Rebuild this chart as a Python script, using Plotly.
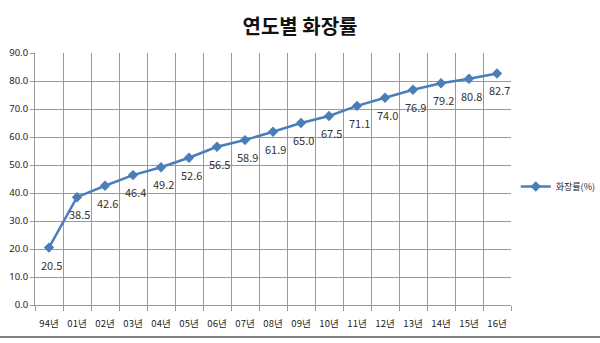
import plotly.graph_objects as go

years = ["94년", "01년", "02년", "03년", "04년", "05년", "06년", "07년", "08년",
         "09년", "10년", "11년", "12년", "13년", "14년", "15년", "16년"]
rates = [20.5, 38.5, 42.6, 46.4, 49.2, 52.6, 56.5, 58.9, 61.9,
         65.0, 67.5, 71.1, 74.0, 76.9, 79.2, 80.8, 82.7]
ytick_vals = [0, 10, 20, 30, 40, 50, 60, 70, 80, 90]
ytick_text = [f"{v:.1f}" for v in ytick_vals]

xs = list(range(len(years)))
font_kr = "Noto Sans CJK KR"
line_color = "#4A7EBB"
grid_color = "#9A9A9A"

fig = go.Figure()
fig.add_trace(go.Scatter(
    x=xs, y=rates, mode="lines+markers", name="화장률(%)",
    line=dict(color=line_color, width=2.5),
    marker=dict(symbol="diamond", size=8, color=line_color),
))

for x, v in zip(xs, rates):
    fig.add_annotation(x=x, y=v, text=f"{v:.1f}", showarrow=False,
                       xanchor="center", yanchor="middle", xshift=2, yshift=-17,
                       font=dict(family=font_kr, size=11, color="#333333"))

fig.update_layout(
    width=600, height=343,
    margin=dict(l=35, r=89, t=53, b=38, autoexpand=False),
    paper_bgcolor="white", plot_bgcolor="white",
    title=dict(text="<b>연도별 화장률</b>", x=0.5, xref="container", xanchor="center",
               y=1 - 27 / 343, yref="container", yanchor="middle",
               font=dict(family=font_kr, size=20, color="#111111")),
    showlegend=True,
    legend=dict(x=1.01, xanchor="left", y=0.47, yanchor="middle",
                font=dict(family=font_kr, size=9, color="#222222"),
                bgcolor="rgba(0,0,0,0)", itemwidth=30),
    xaxis=dict(
        range=[-0.5, len(years) - 0.5], tickmode="array", tickvals=xs, ticktext=years,
        showgrid=False, zeroline=False, showline=True, linecolor=grid_color, linewidth=1,
        ticks="", ticklabelstandoff=10,
        tickfont=dict(family=font_kr, size=9.5, color="#222222"),
        minor=dict(tickmode="linear", tick0=-0.5, dtick=1, showgrid=True,
                   gridcolor=grid_color, gridwidth=1, ticks="outside", ticklen=5,
                   tickcolor=grid_color),
        fixedrange=True,
    ),
    yaxis=dict(
        range=[0, 90], tickmode="array", tickvals=ytick_vals, ticktext=ytick_text,
        showgrid=True, gridcolor=grid_color, gridwidth=1, zeroline=False,
        showline=True, linecolor=grid_color, linewidth=1,
        ticks="outside", ticklen=4, tickcolor=grid_color,
        tickfont=dict(family="Noto Sans", size=9.5, color="#222222"),
        fixedrange=True,
    ),
)

fig.add_shape(type="line", xref="paper", yref="paper",
              x0=-35 / 476, x1=565 / 476, y0=(305 - 337) / 252, y1=(305 - 337) / 252,
              line=dict(color="#555555", width=1.5))

fig.write_html("out.html")
